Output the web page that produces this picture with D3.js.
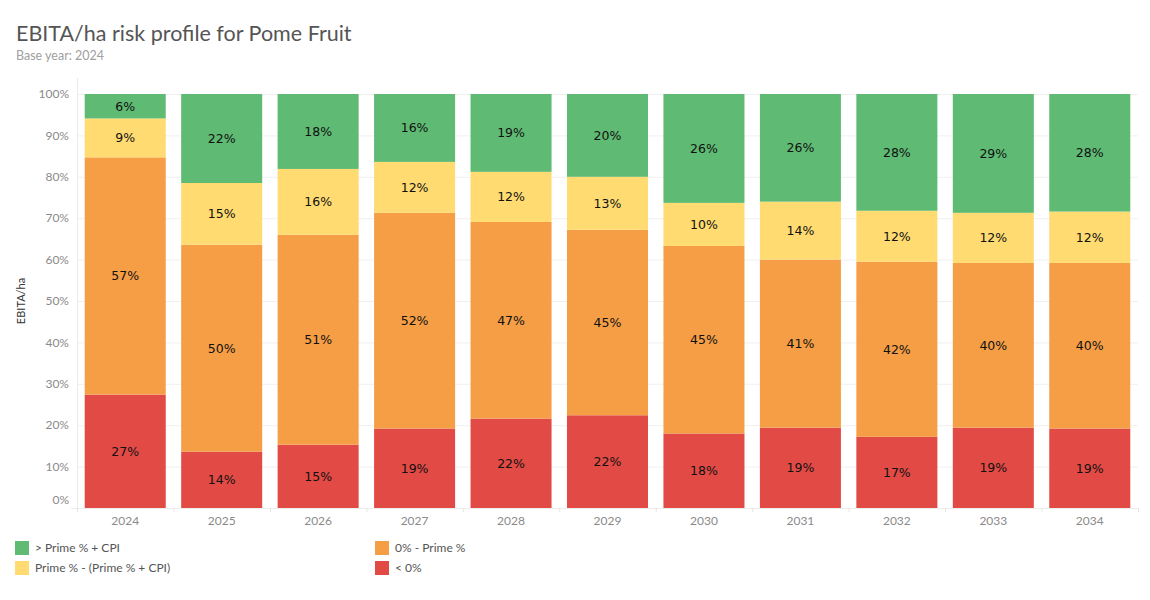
<!DOCTYPE html>
<html>
<head>
<meta charset="utf-8">
<script src="https://cdn.jsdelivr.net/npm/d3@7"></script>
<style>
  body { margin: 0; background: #fff; }
  svg { display: block; }
</style>
</head>
<body>
<div id="chart"></div>
<script>
// EBITA/ha risk profile, 100% stacked

const WIDTH = 1150;
const HEIGHT = 600;
const MARGIN = { TOP: 94, BOTTOM: 92, LEFT: 77, RIGHT: 12 };

const years = ['2024', '2025', '2026', '2027', '2028', '2029', '2030', '2031', '2032', '2033', '2034'];
const below0 = [27.4, 13.6, 15.3, 19.2, 21.6, 22.4, 18.0, 19.4, 17.2, 19.4, 19.2];
const toPrime = [57.3, 50.0, 50.7, 52.1, 47.5, 44.8, 45.3, 40.6, 42.3, 39.8, 40.0];
const primeCpi = [9.4, 14.9, 15.9, 12.3, 12.1, 12.8, 10.4, 14.0, 12.3, 12.1, 12.4];
const abovePrimeCpi = [5.9, 21.5, 18.1, 16.4, 18.8, 20.0, 26.3, 26.0, 28.2, 28.7, 28.4];
const yTicks = [0, 10, 20, 30, 40, 50, 60, 70, 80, 90, 100];

const series = [
  { key: 'below0', name: '< 0%', color: '#e24a45', values: below0 },
  { key: 'toPrime', name: '0% - Prime %', color: '#f59e46', values: toPrime },
  { key: 'primeCpi', name: 'Prime % - (Prime % + CPI)', color: '#ffdb72', values: primeCpi },
  { key: 'above', name: '> Prime % + CPI', color: '#5fba73', values: abovePrimeCpi }
];

const rows = years.map((y, i) => {
  const r = { year: y };
  series.forEach(s => { r[s.key] = s.values[i]; });
  return r;
});

const svg = d3.select('#chart').append('svg')
  .attr('width', WIDTH)
  .attr('height', HEIGHT);

const x = d3.scaleBand()
  .domain(years)
  .range([MARGIN.LEFT, WIDTH - MARGIN.RIGHT])
  .paddingInner(0.16)
  .paddingOuter(0.08);

const y = d3.scaleLinear()
  .domain([0, 100])
  .range([HEIGHT - MARGIN.BOTTOM, MARGIN.TOP]);

// title
svg.append('text')
  .attr('x', 16).attr('y', 41)
  .style('font-family', 'Lato, "Open Sans", sans-serif')
  .style('font-size', '21.5px')
  .style('fill', '#555')
  .text('EBITA/ha risk profile for Pome Fruit');

svg.append('text')
  .attr('x', 16).attr('y', 60)
  .style('font-family', 'Lato, "Open Sans", sans-serif')
  .style('font-size', '12.5px')
  .style('fill', '#a0a0a0')
  .text('Base year: 2024');

// gridlines
svg.append('g')
  .selectAll('line')
  .data(yTicks.filter(t => t > 0))
  .enter().append('line')
    .attr('x1', MARGIN.LEFT)
    .attr('x2', WIDTH - MARGIN.RIGHT)
    .attr('y1', d => y(d) + 0.5)
    .attr('y2', d => y(d) + 0.5)
    .attr('stroke', '#f0f0f0')
    .attr('stroke-width', 1);

// left axis line
svg.append('line')
  .attr('x1', MARGIN.LEFT + 0.5).attr('x2', MARGIN.LEFT + 0.5)
  .attr('y1', 78).attr('y2', y(0))
  .attr('stroke', '#ececec');

// y labels
svg.append('g')
  .selectAll('text')
  .data(yTicks)
  .enter().append('text')
    .attr('x', MARGIN.LEFT - 8)
    .attr('y', d => d === 0 ? y(0) - 8 : y(d))
    .attr('dy', '0.35em')
    .attr('text-anchor', 'end')
    .style('font-family', 'Lato, "Open Sans", sans-serif')
    .style('font-size', '12px')
    .style('fill', '#8a8a8a')
    .text(d => d + '%');

svg.append('text')
  .attr('transform', `translate(25, ${y(50)}) rotate(-90)`)
  .attr('text-anchor', 'middle')
  .style('font-family', 'Lato, "Open Sans", sans-serif')
  .style('font-size', '11px')
  .style('fill', '#333')
  .text('EBITA/ha');

// stacked bars
const stack = d3.stack().keys(series.map(s => s.key));
const layers = stack(rows);

const layer = svg.append('g')
  .selectAll('g')
  .data(layers)
  .enter().append('g')
    .attr('fill', (d, i) => series[i].color);

layer.selectAll('rect')
  .data(d => d)
  .enter().append('rect')
    .attr('x', d => x(d.data.year))
    .attr('width', x.bandwidth())
    .attr('y', d => y(d[1]))
    .attr('height', d => y(d[0]) - y(d[1]));

layer.selectAll('text')
  .data(d => d)
  .enter().append('text')
    .attr('x', d => x(d.data.year) + x.bandwidth() / 2)
    .attr('y', d => (y(d[0]) + y(d[1])) / 2)
    .attr('dy', '0.35em')
    .attr('text-anchor', 'middle')
    .style('font-family', '"DejaVu Sans", Verdana, sans-serif')
    .style('font-size', '12.5px')
    .style('fill', '#111')
    .text(d => Math.round(d[1] - d[0]) + '%');

// bottom axis
const bottom = y(0);
svg.append('line')
  .attr('x1', 71).attr('x2', WIDTH - MARGIN.RIGHT)
  .attr('y1', bottom + 0.5).attr('y2', bottom + 0.5)
  .attr('stroke', '#ececec');

const step = x.step();
svg.append('g')
  .selectAll('line')
  .data(d3.range(years.length + 1))
  .enter().append('line')
    .attr('x1', i => MARGIN.LEFT + i * step + 0.5)
    .attr('x2', i => MARGIN.LEFT + i * step + 0.5)
    .attr('y1', bottom)
    .attr('y2', bottom + 4)
    .attr('stroke', '#e4e4e4');

svg.append('g')
  .selectAll('text')
  .data(years)
  .enter().append('text')
    .attr('x', d => x(d) + x.bandwidth() / 2)
    .attr('y', bottom + 17)
    .attr('text-anchor', 'middle')
    .style('font-family', 'Lato, "Open Sans", sans-serif')
    .style('font-size', '12px')
    .style('fill', '#8a8a8a')
    .text(d => d);

// legend
const legendItems = [
  { s: series[3], x: 15, y: 541 },
  { s: series[2], x: 15, y: 561 },
  { s: series[1], x: 375, y: 541 },
  { s: series[0], x: 375, y: 561 }
];

const legend = svg.append('g')
  .selectAll('g')
  .data(legendItems)
  .enter().append('g')
    .attr('transform', d => `translate(${d.x}, ${d.y})`);

legend.append('rect')
  .attr('width', 14).attr('height', 14)
  .attr('fill', d => d.s.color);

legend.append('text')
  .attr('x', 20).attr('y', 7)
  .attr('dy', '0.35em')
  .style('font-family', 'Lato, "Open Sans", sans-serif')
  .style('font-size', '12px')
  .style('fill', '#555')
  .text(d => d.s.name);
</script>
</body>
</html>
